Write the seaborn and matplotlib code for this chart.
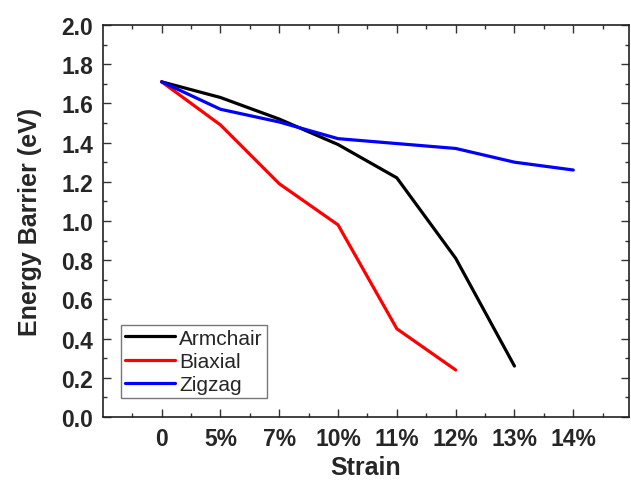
# Energy barrier vs strain, three strain directions
import pandas as pd
import numpy as np
import matplotlib
matplotlib.use('Agg')
import matplotlib.pyplot as plt
import seaborn as sns
from matplotlib.ticker import MultipleLocator, FixedLocator

# %% Data
strainLabels = ['0', '5%', '7%', '10%', '11%', '12%', '13%', '14%']
armchair = [1.71, 1.63, 1.52, 1.39, 1.22, 0.81, 0.26]
biaxial = [1.71, 1.49, 1.19, 0.98, 0.45, 0.24]
zigzag = [1.71, 1.57, 1.505, 1.42, 1.395, 1.37, 1.30, 1.26]

# build long table for seaborn
frames = []
for name, vals in [('Armchair', armchair), ('Biaxial', biaxial), ('Zigzag', zigzag)]:
    frames.append(pd.DataFrame({'pos': np.arange(len(vals)),
                                'barrier': vals, 'series': name}))
df = pd.concat(frames, ignore_index=True)

# %% Style
sns.set_style('ticks')
plt.rcParams['font.family'] = ['Liberation Sans', 'DejaVu Sans']
plt.rcParams['axes.linewidth'] = 1.2

fig, ax = plt.subplots(figsize=(6.31, 4.81), dpi=100)
plt.subplots_adjust(left=0.163, right=0.997, top=0.946, bottom=0.131)

sns.lineplot(data=df, x='pos', y='barrier', hue='series',
             palette={'Armchair': 'black', 'Biaxial': '#ff0000', 'Zigzag': '#0000ff'},
             lw=2.3, ax=ax, sort=False)

# axes limits and ticks
ax.set_xlim(-1, 7.95)
ax.set_ylim(0, 2.0)
ax.xaxis.set_major_locator(FixedLocator(range(len(strainLabels))))
ax.set_xticklabels(strainLabels)
ax.xaxis.set_minor_locator(FixedLocator(np.arange(-0.5, 8, 1)))
ax.yaxis.set_major_locator(MultipleLocator(0.2))
ax.yaxis.set_minor_locator(MultipleLocator(0.1))
ax.yaxis.set_major_formatter(matplotlib.ticker.FormatStrFormatter('%.1f'))

ax.tick_params(which='both', direction='in', top=True, right=True,
               color='#333333', width=1.0)
ax.tick_params(which='major', length=6, labelsize=16.5, pad=7)
ax.tick_params(which='minor', length=3)
for lab in ax.get_xticklabels() + ax.get_yticklabels():
    lab.set_fontweight('bold')

for sp in ax.spines.values():
    sp.set_visible(True)
    sp.set_color('#222222')

ax.set_xlabel('Strain', fontsize=18, fontweight='bold', labelpad=4)
ax.set_ylabel('Energy Barrier (eV)', fontsize=18, fontweight='bold', labelpad=14)

# legend
leg = ax.legend(loc='lower left', bbox_to_anchor=(0.034, 0.048), fontsize=15,
                handlelength=2.4, handletextpad=0.2, labelspacing=0.2,
                borderpad=0.2, borderaxespad=0, fancybox=False, frameon=True)
leg.get_frame().set_edgecolor('#555555')
leg.get_frame().set_linewidth(1.0)
for ln in leg.get_lines():
    ln.set_linewidth(2.3)

plt.savefig('out.png', dpi=100, facecolor='white')
